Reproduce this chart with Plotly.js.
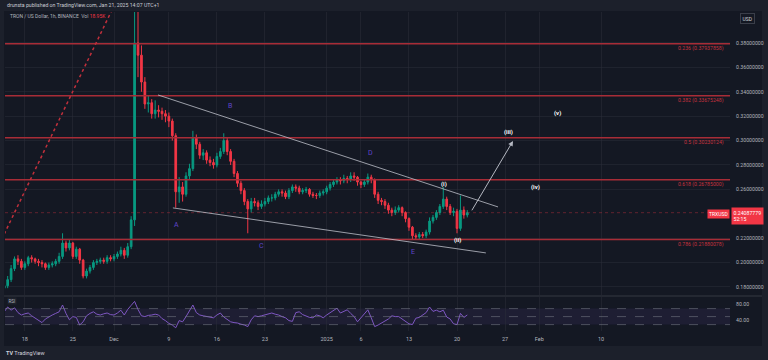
<!DOCTYPE html>
<html>
<head>
<meta charset="utf-8">
<script src="https://cdn.plot.ly/plotly-3.0.1.min.js"></script>
<style>html,body{margin:0;padding:0;background:#1c202b;}#chart{width:768px;height:360px;}</style>
</head>
<body>
<div id="chart"></div>
<script>
// ---- Data (12h candles) ----
const startTime = Date.UTC(2024, 10, 15, 0, 0); // first candle
const stepHours = 12;
const firstOpen = 0.179;
const closes = [0.181,0.186,0.195,0.203,0.201,0.196,0.199,0.204,0.203,0.201,
 0.200,0.199,0.196,0.198,0.199,0.201,0.205,0.216,0.212,0.216,
 0.205,0.211,0.202,0.189,0.193,0.196,0.200,0.201,0.202,0.201,
 0.204,0.203,0.205,0.207,0.210,0.206,0.213,0.235,0.380,0.370,
 0.348,0.330,0.331,0.322,0.325,0.324,0.322,0.320,0.316,0.304,
 0.258,0.262,0.256,0.271,0.277,0.302,0.297,0.288,0.290,0.284,
 0.282,0.280,0.287,0.291,0.300,0.291,0.283,0.273,0.265,0.259,
 0.250,0.244,0.250,0.249,0.246,0.248,0.250,0.253,0.253,0.256,
 0.258,0.257,0.254,0.259,0.262,0.261,0.258,0.259,0.260,0.256,
 0.255,0.255,0.257,0.258,0.261,0.264,0.266,0.268,0.267,0.269,
 0.268,0.271,0.270,0.266,0.264,0.266,0.270,0.268,0.256,0.251,
 0.250,0.247,0.243,0.241,0.243,0.245,0.241,0.236,0.229,0.222,
 0.221,0.223,0.222,0.225,0.234,0.237,0.241,0.246,0.252,0.246,
 0.241,0.242,0.228,0.243,0.239,0.2409];
const highs = [0.184,0.189,0.198,0.205,0.206,0.203,0.201,0.2055,0.206,0.204,
 0.203,0.202,0.200,0.200,0.201,0.203,0.208,0.224,0.218,0.219,
 0.217,0.213,0.212,0.203,0.195,0.198,0.202,0.203,0.204,0.204,
 0.206,0.206,0.207,0.209,0.213,0.212,0.216,0.238,0.449,0.420,
 0.378,0.352,0.337,0.334,0.333,0.329,0.327,0.325,0.323,0.318,
 0.306,0.270,0.266,0.274,0.281,0.308,0.305,0.299,0.293,0.292,
 0.287,0.285,0.290,0.294,0.306,0.302,0.293,0.285,0.275,0.267,
 0.261,0.252,0.253,0.253,0.251,0.251,0.253,0.255,0.256,0.258,
 0.260,0.260,0.259,0.261,0.264,0.264,0.263,0.261,0.262,0.261,
 0.258,0.257,0.259,0.260,0.263,0.266,0.268,0.270,0.270,0.272,
 0.271,0.274,0.274,0.271,0.267,0.268,0.273,0.272,0.269,0.258,
 0.253,0.252,0.249,0.245,0.246,0.247,0.246,0.242,0.237,0.230,
 0.224,0.225,0.225,0.227,0.237,0.239,0.243,0.248,0.262,0.254,
 0.248,0.245,0.244,0.255,0.246,0.243];
const lows = [0.177,0.179,0.184,0.193,0.198,0.194,0.194,0.197,0.200,0.199,
 0.197,0.196,0.194,0.194,0.196,0.197,0.199,0.203,0.209,0.210,
 0.203,0.203,0.199,0.187,0.187,0.191,0.194,0.198,0.199,0.199,
 0.199,0.201,0.201,0.203,0.205,0.203,0.204,0.211,0.230,0.352,
 0.340,0.326,0.323,0.318,0.318,0.319,0.317,0.315,0.311,0.300,
 0.245,0.249,0.250,0.254,0.268,0.275,0.293,0.285,0.284,0.281,
 0.279,0.277,0.278,0.285,0.289,0.288,0.280,0.270,0.262,0.256,
 0.247,0.224,0.241,0.246,0.243,0.244,0.246,0.248,0.250,0.251,
 0.254,0.254,0.252,0.252,0.257,0.258,0.256,0.256,0.257,0.254,
 0.253,0.252,0.253,0.255,0.256,0.259,0.262,0.264,0.264,0.265,
 0.265,0.266,0.267,0.263,0.261,0.262,0.264,0.265,0.253,0.248,
 0.247,0.244,0.240,0.238,0.239,0.241,0.238,0.233,0.226,0.2185,
 0.219,0.219,0.220,0.220,0.223,0.232,0.235,0.239,0.244,0.243,
 0.239,0.238,0.224,0.226,0.236,0.237];
const rsiValues = [62,74,66,72,60,54,57,59,52,47,
 40,35,44,50,54,58,62,79,58,42,
 50,48,29,37,52,58,62,56,54,57,
 59,55,54,59,66,54,68,78,88,68,
 52,50,53,54,56,54,45,40,33,29,
 22,40,37,50,65,79,60,54,52,50,
 49,47,54,59,49,42,37,35,34,31,
 29,25,42,52,50,52,54,56,59,56,
 54,50,47,40,38,60,62,55,52,48,
 47,54,52,47,54,59,64,71,59,63,
 67,58,50,37,48,58,67,47,25,29,
 34,37,44,52,50,50,44,40,32,30,
 46,48,54,60,74,63,66,62,66,49,
 44,32,30,58,48,54];
const fibRatios = ['0.236','0.382','0.5','0.618','0.786'];
const fibPrices = [0.37937858,0.33675248,0.30230124,0.26785000,0.21880078];
const lastPrice = 0.24087779;
const countdown = '52:15';
// 0.24 is hidden behind the last-price tag in the reference
const priceTicks = [0.18,0.20,0.22,0.26,0.28,0.30,0.32,0.34,0.36,0.38];
const timeTickVals = ['2024-11-18','2024-11-25','2024-12-01','2024-12-09','2024-12-16','2024-12-23','2025-01-01','2025-01-06','2025-01-13','2025-01-20','2025-01-27','2025-02-01','2025-02-10'];
const timeTickText = ['18','25','Dec','9','16','23','2025','6','13','20','27','Feb','10'];
// drawing lines: [time, price]
const wedgeUpper = [['2024-12-07 10:00',0.3374],['2025-01-25 23:30',0.2456]];
const wedgeLower = [['2024-12-09 14:00',0.2448],['2025-01-24 05:00',0.2079]];
const projArrow = [['2025-01-22 01:00',0.2416],['2025-01-28 04:00',0.2997]];
const fibTrend = [['2024-11-15 00:00',0.2234],['2024-12-01 04:00',0.4125]];

// ---- Build ----
function fmt(ms){const d=new Date(ms);const p=n=>String(n).padStart(2,'0');
 return d.getUTCFullYear()+'-'+p(d.getUTCMonth()+1)+'-'+p(d.getUTCDate())+' '+p(d.getUTCHours())+':'+p(d.getUTCMinutes());}
const times = closes.map((_,i)=>fmt(startTime+i*stepHours*3600e3));
const opens = closes.map((c,i)=> i===0 ? firstOpen : closes[i-1]);

const W=768,H=360;
const px=x=>x/W, py=y=>1-y/H;
const FONT='Roboto, "Liberation Sans", sans-serif';
const TXT='#b2b5be';

const candles = {
  type:'candlestick', x:times, open:opens, high:highs, low:lows, close:closes,
  xaxis:'x', yaxis:'y',
  increasing:{line:{color:'#089981',width:1},fillcolor:'#089981'},
  decreasing:{line:{color:'#f23645',width:1},fillcolor:'#f23645'},
  whiskerwidth:0, hoverinfo:'skip', showlegend:false
};
const rsi = {
  type:'scatter', mode:'lines', x:times, y:rsiValues, xaxis:'x2', yaxis:'y2',
  line:{color:'#7e57c2',width:1}, hoverinfo:'skip', showlegend:false
};

const shapes = [
  {type:'rect',xref:'paper',yref:'paper',x0:px(4),x1:px(762),y0:py(346),y1:py(11),fillcolor:'#141823',line:{width:0},layer:'below'},
  {type:'line',xref:'paper',yref:'paper',x0:px(4),x1:px(762),y0:py(296),y1:py(296),line:{color:'#2a2e39',width:1.5}},
  // RSI band
  {type:'rect',xref:'paper',yref:'y2',x0:px(5),x1:px(730),y0:30,y1:70,fillcolor:'rgba(126,87,194,0.1)',line:{width:0},layer:'below'},
];
[70,50,30].forEach(v=>shapes.push({type:'line',xref:'paper',yref:'y2',x0:px(5),x1:px(730),y0:v,y1:v,line:{color:'rgba(120,123,134,0.55)',width:1,dash:'dash'}}));
fibPrices.forEach(p=>shapes.push({type:'line',xref:'paper',yref:'y',x0:px(5),x1:px(730),y0:p,y1:p,line:{color:'#a82c37',width:1.5}}));
shapes.push({type:'line',xref:'paper',yref:'y',x0:px(5),x1:px(730),y0:lastPrice,y1:lastPrice,line:{color:'rgba(242,54,69,0.35)',width:1,dash:'dot'}});
[wedgeUpper,wedgeLower].forEach(l=>shapes.push({type:'line',xref:'x',yref:'y',x0:l[0][0],y0:l[0][1],x1:l[1][0],y1:l[1][1],line:{color:'rgba(200,203,212,0.75)',width:1}}));
shapes.push({type:'line',xref:'x',yref:'y',x0:fibTrend[0][0],y0:fibTrend[0][1],x1:fibTrend[1][0],y1:fibTrend[1][1],line:{color:'#c2303c',width:1.5,dash:'dot'}});

const ann = [];
function T(x,y,text,o){ann.push(Object.assign({xref:'paper',yref:'paper',x:px(x),y:py(y),text:text,showarrow:false,xanchor:'left',yanchor:'middle',font:{family:FONT,size:5.5,color:TXT}},o||{}));}
T(5,5,'drunsta published on TradingView.com, Jan 21, 2025 14:07 UTC+1',{font:{family:FONT,size:5.2,color:'#c9ccd4'}});
T(8,16.5,'TRON / US Dollar, 1h, BINANCE  Vol <span style="color:#f23645">18.95K</span>',{font:{family:FONT,size:5,color:'#b2b5be'}});
fibPrices.forEach((p,i)=>ann.push({xref:'paper',yref:'y',x:px(726),y:p,yshift:-5,text:fibRatios[i]+' ('+p.toFixed(8)+')',showarrow:false,xanchor:'right',yanchor:'middle',font:{family:FONT,size:5.2,color:'#c7333f'}}));
// wave letters
[['A',176,225],['B',230,106],['C',261,246],['D',370,153],['E',413,252]].forEach(a=>T(a[1],a[2],a[0],{xanchor:'center',font:{family:FONT,size:7,color:'#5f45c9'}}));
[['(i)',444,184],['(ii)',457,240],['(iii)',508,132],['(iv)',535,187],['(v)',557,113]].forEach(a=>T(a[1],a[2],'<b>'+a[0]+'</b>',{xanchor:'center',font:{family:FONT,size:6,color:'#ffffff'}}));
// arrow
ann.push({xref:'x',yref:'y',axref:'x',ayref:'y',x:projArrow[1][0],y:projArrow[1][1],ax:projArrow[0][0],ay:projArrow[0][1],text:'',showarrow:true,arrowhead:2,arrowsize:1,arrowwidth:1,arrowcolor:'rgba(210,213,222,0.85)'});
// tags
T(718.5,213.5,'TRXUSD',{xanchor:'center',bgcolor:'#f23645',borderpad:1,font:{family:FONT,size:5,color:'#ffffff'}});
ann.push({xref:'paper',yref:'y',x:px(730.5),y:lastPrice,yshift:-3,text:lastPrice.toFixed(8)+'<br>'+countdown,showarrow:false,xanchor:'left',yanchor:'middle',align:'left',bgcolor:'#f23645',borderpad:1.5,font:{family:FONT,size:5.2,color:'#ffffff'}});
T(747,18.5,'USD',{xanchor:'center',bgcolor:'#141823',bordercolor:'#3a3e49',borderwidth:1,borderpad:1.5,font:{family:FONT,size:5,color:'#d1d4dc'}});
T(7,300.5,'RSI',{bgcolor:'#1e222d',borderpad:0.5,font:{family:FONT,size:4.5,color:TXT}});
T(4,352.5,'<b>TV</b> TradingView',{font:{family:FONT,size:5.5,color:'#d1d4dc'}});

const xRange=['2024-11-15 02:40','2025-02-28 19:06'];
const layout = {
  width:W,height:H,margin:{l:0,r:0,t:0,b:0},
  paper_bgcolor:'#1c202b',plot_bgcolor:'rgba(0,0,0,0)',
  showlegend:false,
  xaxis:{domain:[px(5),px(730)],anchor:'y',type:'date',range:xRange,rangeslider:{visible:false},
    tickvals:timeTickVals,showticklabels:false,showgrid:true,gridcolor:'rgba(42,46,57,0.55)',gridwidth:1,zeroline:false,showline:false,fixedrange:true},
  xaxis2:{domain:[px(5),px(730)],anchor:'y2',type:'date',range:xRange,matches:'x',
    tickvals:timeTickVals,ticktext:timeTickText,showgrid:true,gridcolor:'rgba(42,46,57,0.55)',
    ticks:'outside',ticklen:2,tickcolor:'rgba(0,0,0,0)',tickfont:{family:FONT,size:5.5,color:TXT},zeroline:false,showline:false},
  yaxis:{domain:[py(295),py(12)],anchor:'x',side:'right',range:[0.1734,0.4054],tickvals:priceTicks,tickformat:'.8f',
    showgrid:true,gridcolor:'rgba(42,46,57,0.5)',zeroline:false,ticks:'outside',ticklen:4,tickcolor:'rgba(0,0,0,0)',
    tickfont:{family:FONT,size:5.2,color:TXT}},
  yaxis2:{domain:[py(331),py(297)],anchor:'x2',side:'right',range:[14,99],tickvals:[40,80],ticktext:['40.00','80.00'],
    showgrid:false,zeroline:false,ticks:'outside',ticklen:4,tickcolor:'rgba(0,0,0,0)',tickfont:{family:FONT,size:5.2,color:TXT}},
  shapes:shapes, annotations:ann
};
Plotly.newPlot('chart',[candles,rsi],layout,{staticPlot:true,displayModeBar:false});
</script>
</body>
</html>
